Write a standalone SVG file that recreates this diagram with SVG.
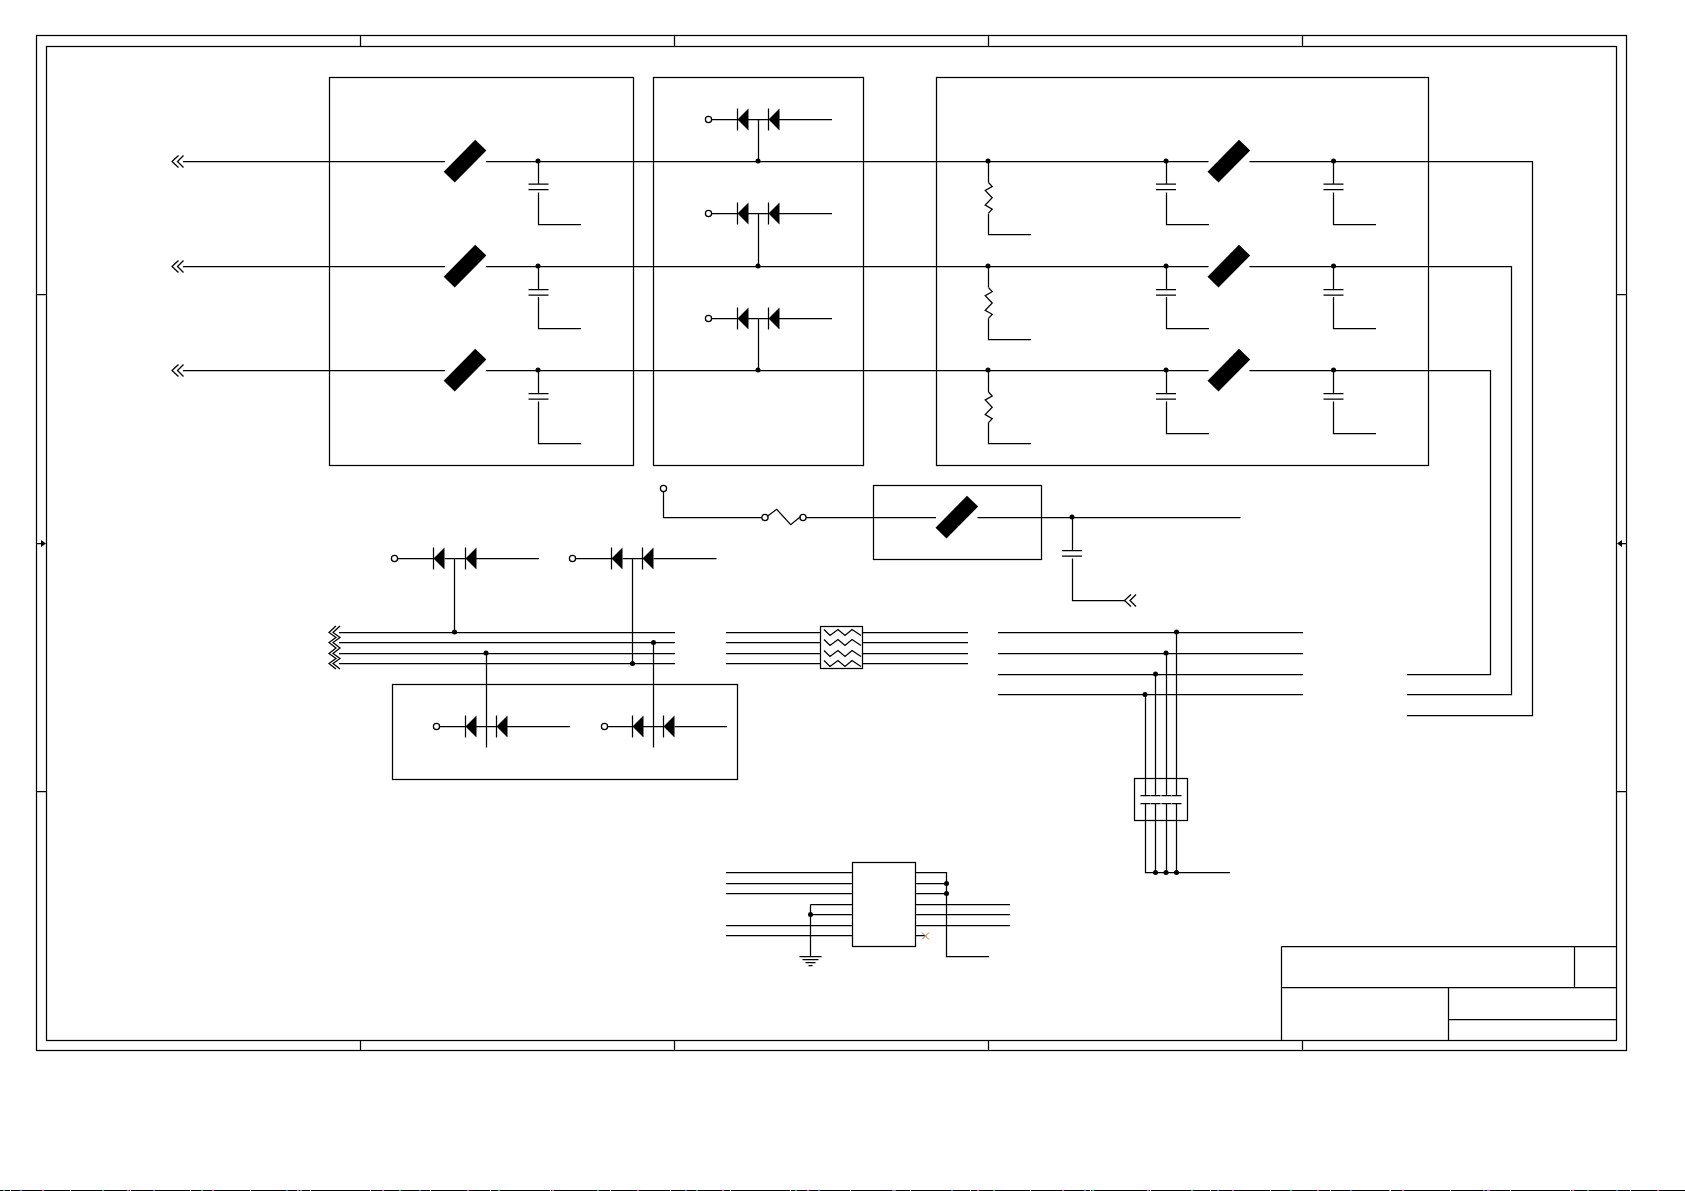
<svg xmlns="http://www.w3.org/2000/svg" xmlns:xlink="http://www.w3.org/1999/xlink" width="1685" height="1191" viewBox="0 0 1685 1191">
<style>
.w{fill:none;stroke:#000;stroke-width:1.25}
.f{fill:#000;stroke:none}
.t{fill:#fff;stroke:#000;stroke-width:1.25}
</style>
<defs>
<polygon id="bar" class="f" points="10,-21.6 21.2,-10.8 -10.5,21.3 -21.5,10.4"/>
<g id="diode"><path class="w" d="M0,-11V11"/><polygon class="f" points="0,0 11,-11 11,11"/></g>
<path id="chev" class="w" d="M6.5,-6L0,0L6.5,6M11.5,-6L5.5,0L11.5,6"/>
<circle id="term" class="t" r="3.1"/>
<circle id="dot" class="f" r="2.5"/>
<path id="plates" class="w" d="M-10,0H10M-10,5.5H10"/>
<path id="res" class="w" d="M0,0L3.7,4L-3.3,8L3.7,15.3L-3.3,22.6L3.7,26.6L0,30.6"/>
<path id="zig" class="w" d="M824,-3L830,3L838,-3L845,3L852,-3L861,3"/>
</defs>

<g id="frame">
<rect class="w" x="36.5" y="35.5" width="1590" height="1015"/>
<rect class="w" x="46.5" y="46.5" width="1570" height="994"/>
<path class="w" d="M360.5,35.5V46.5M674.5,35.5V46.5M988.5,35.5V46.5M1302.5,35.5V46.5M360.5,1040.5V1050.5M674.5,1040.5V1050.5M988.5,1040.5V1050.5M1302.5,1040.5V1050.5M36.5,294.5H46.5M36.5,791.5H46.5M1616.5,294.5H1626.5M1616.5,791.5H1626.5M36.5,543.5H41M1622,543.5H1626.5"/>
<polygon class="f" points="41,540 46,543.5 41,547"/>
<polygon class="f" points="1622,540 1617,543.5 1622,547"/>
</g>

<g id="title-block">
<path class="w" d="M1281.5,946.5H1616.5M1281.5,946.5V1040.5M1281.5,987.5H1616.5M1574.5,946.5V987.5M1448.5,987.5V1040.5M1448.5,1019.5H1616.5"/>
</g>

<g id="box-1"><rect class="w" x="329.5" y="77.5" width="304" height="388"/></g>
<g id="box-2"><rect class="w" x="653.5" y="77.5" width="210" height="388"/></g>
<g id="box-3"><rect class="w" x="936.5" y="77.5" width="492" height="388"/></g>
<g id="box-4"><rect class="w" x="873.5" y="485.5" width="168" height="74"/></g>
<g id="box-5"><rect class="w" x="392.5" y="684.5" width="345" height="95"/></g>

<g id="connectors">
<!-- main rails -->
<path class="w" d="M183,161.5H445M486,161.5H1208.5M1249.5,161.5H1532.5V715.5H1407"/>
<path class="w" d="M183,266.5H445M486,266.5H1208.5M1249.5,266.5H1511.5V694.5H1407"/>
<path class="w" d="M183,370.5H445M486,370.5H1208.5M1249.5,370.5H1490.5V674.5H1407"/>
<!-- caps in box 1 -->
<path class="w" d="M538.5,161.5V184M538.5,192.5V224.5H581M538.5,266.5V289M538.5,297V328.5H581M538.5,370.5V393M538.5,401.5V443.5H581"/>
<!-- resistor legs -->
<path class="w" d="M988.5,161.5V182.5M988.5,213.5V234.5H1031M988.5,266.5V287.5M988.5,318.5V339.5H1031M988.5,370.5V392M988.5,422.5V443.5H1031"/>
<!-- caps in box 3 -->
<path class="w" d="M1166.5,161.5V184M1166.5,192.5V224.5H1209M1166.5,266.5V289M1166.5,297V328.5H1209M1166.5,370.5V393M1166.5,401.5V433.5H1209"/>
<path class="w" d="M1333.5,161.5V184M1333.5,192.5V224.5H1376M1333.5,266.5V289M1333.5,297V328.5H1376M1333.5,370.5V393M1333.5,401.5V433.5H1376"/>
<!-- diode rows in box 2 -->
<path class="w" d="M711.5,119.5H737.5M748,119.5H768.5M779,119.5H832M758.5,119.5V161.5"/>
<path class="w" d="M711.5,213.5H737.5M748,213.5H768.5M779,213.5H832M758.5,213.5V266.5"/>
<path class="w" d="M711.5,318.5H737.5M748,318.5H768.5M779,318.5H832M758.5,318.5V370.5"/>
<!-- supply row -->
<path class="w" d="M663.5,491.5V517.5H762M806,517.5H936M977.5,517.5H1240.5"/>
<path class="w" d="M1072.5,517.5V550.5M1072.5,558.5V600.5H1125"/>
<!-- lower diodes -->
<path class="w" d="M397.5,558.5H433.5M444.5,558.5H465.5M476,558.5H539M454.5,558.5V632.5"/>
<path class="w" d="M575.5,558.5H611.5M622.5,558.5H642.5M653.5,558.5H716.5M632.5,558.5V663.5"/>
<path class="w" d="M439,726.5H465.5M476,726.5H496.5M507,726.5H570M486.5,653.5V747.5"/>
<path class="w" d="M607,726.5H632.5M643,726.5H663.5M674.5,726.5H727M653.5,642.5V747.5"/>
<!-- bus 1 -->
<path class="w" d="M339,632.5H675M339,642.5H675M339,653.5H675M339,663.5H675"/>
<!-- bus 2 -->
<path class="w" d="M726,632.5H820M726,642.5H820M726,653.5H820M726,663.5H820M863,632.5H968M863,642.5H968M863,653.5H968M863,663.5H968"/>
<!-- bus 3 -->
<path class="w" d="M998,632.5H1303M998,653.5H1303M998,674.5H1303M998,694.5H1303"/>
<path class="w" d="M1145.5,694.5V795.5M1155.5,674.5V795.5M1166.5,653.5V795.5M1176.5,632.5V795.5M1145.5,803.5V872.5H1230M1155.5,803.5V872.5M1166.5,803.5V872.5M1176.5,803.5V872.5"/>
<!-- IC wires -->
<path class="w" d="M726,872.5H852M726,883.5H852M726,893.5H852M726,925.5H852M726,935.5H852M810.5,904.5H852M810.5,914.5H852M810.5,904.5V956.5"/>
<path class="w" d="M915,872.5H946.5V956.5H989M915,883.5H946.5M915,893.5H946.5M915,904.5H1010M915,914.5H1010M915,925.5H1010M915,935.5H925"/>
</g>

<g id="junctions">
<use href="#dot" x="538" y="161"/><use href="#dot" x="538" y="266"/><use href="#dot" x="538" y="370"/>
<use href="#dot" x="758" y="161"/><use href="#dot" x="758" y="266"/><use href="#dot" x="758" y="370"/>
<use href="#dot" x="988" y="161"/><use href="#dot" x="988" y="266"/><use href="#dot" x="988" y="370"/>
<use href="#dot" x="1166" y="161"/><use href="#dot" x="1166" y="266"/><use href="#dot" x="1166" y="370"/>
<use href="#dot" x="1333.5" y="161"/><use href="#dot" x="1333.5" y="266"/><use href="#dot" x="1333.5" y="370"/>
<use href="#dot" x="1072" y="517"/>
<use href="#dot" x="454.5" y="632"/><use href="#dot" x="632.5" y="663.5"/><use href="#dot" x="486" y="653"/><use href="#dot" x="653.5" y="642.5"/>
<use href="#dot" x="1176.5" y="632"/><use href="#dot" x="1166" y="653"/><use href="#dot" x="1155.5" y="674"/><use href="#dot" x="1145" y="694.5"/>
<use href="#dot" x="1155.5" y="872.5"/><use href="#dot" x="1166" y="872.5"/><use href="#dot" x="1176.5" y="872.5"/>
<use href="#dot" x="810.5" y="914.5"/><use href="#dot" x="946.5" y="883.5"/><use href="#dot" x="946.5" y="893.5"/>
</g>

<g id="port-1"><use href="#chev" x="172" y="161.5"/></g>
<g id="port-2"><use href="#chev" x="172" y="266.5"/></g>
<g id="port-3"><use href="#chev" x="172" y="370.5"/></g>
<g id="port-4"><use href="#chev" x="1124.5" y="600.5"/></g>

<g id="bead-1"><use href="#bar" x="465.2" y="161.3"/></g>
<g id="bead-2"><use href="#bar" x="465.2" y="266.3"/></g>
<g id="bead-3"><use href="#bar" x="465.2" y="370.3"/></g>
<g id="bead-4"><use href="#bar" x="1229" y="161.3"/></g>
<g id="bead-5"><use href="#bar" x="1229" y="266.3"/></g>
<g id="bead-6"><use href="#bar" x="1229" y="370.3"/></g>
<g id="bead-7"><use href="#bar" x="957" y="517.3"/></g>

<g id="cap-1"><use href="#plates" x="538.5" y="184"/></g>
<g id="cap-2"><use href="#plates" x="538.5" y="289.5"/></g>
<g id="cap-3"><use href="#plates" x="538.5" y="393.5"/></g>
<g id="cap-4"><use href="#plates" x="1166" y="184"/></g>
<g id="cap-5"><use href="#plates" x="1166" y="289.5"/></g>
<g id="cap-6"><use href="#plates" x="1166" y="393.5"/></g>
<g id="cap-7"><use href="#plates" x="1333.5" y="184"/></g>
<g id="cap-8"><use href="#plates" x="1333.5" y="289.5"/></g>
<g id="cap-9"><use href="#plates" x="1333.5" y="393.5"/></g>
<g id="cap-10"><use href="#plates" x="1072" y="550.5"/></g>

<g id="res-1"><use href="#res" x="988.5" y="182.5"/></g>
<g id="res-2"><use href="#res" x="988.5" y="287.7"/></g>
<g id="res-3"><use href="#res" x="988.5" y="392"/></g>

<g id="tvs-1"><use href="#term" x="708.5" y="119.5"/><use href="#diode" x="737.5" y="119.5"/><use href="#diode" x="768.5" y="119.5"/></g>
<g id="tvs-2"><use href="#term" x="708.5" y="213.5"/><use href="#diode" x="737.5" y="213.5"/><use href="#diode" x="768.5" y="213.5"/></g>
<g id="tvs-3"><use href="#term" x="708.5" y="318.5"/><use href="#diode" x="737.5" y="318.5"/><use href="#diode" x="768.5" y="318.5"/></g>
<g id="tvs-4"><use href="#term" x="394.5" y="558.5"/><use href="#diode" x="433.5" y="558.5"/><use href="#diode" x="465.5" y="558.5"/></g>
<g id="tvs-5"><use href="#term" x="572.5" y="558.5"/><use href="#diode" x="611.5" y="558.5"/><use href="#diode" x="642.5" y="558.5"/></g>
<g id="tvs-6"><use href="#term" x="436.5" y="726.5"/><use href="#diode" x="465.5" y="726.5"/><use href="#diode" x="496.5" y="726.5"/></g>
<g id="tvs-7"><use href="#term" x="604.5" y="726.5"/><use href="#diode" x="632.5" y="726.5"/><use href="#diode" x="663.5" y="726.5"/></g>

<g id="supply-terminal"><use href="#term" x="663.5" y="488.5"/></g>
<g id="fuse">
<use href="#term" x="765" y="517.5"/><use href="#term" x="803" y="517.5"/>
<path class="w" d="M767,516.5L776.7,509.3L790.7,524.7L800.7,516.5"/>
</g>

<g id="bus-break">
<path class="w" d="M336,626L329,632.5L336,637.5L329,642.5L336,648L329,653.5L336,658.5L329,663.5L336,669"/>
<path class="w" d="M340,626L333,632.5L340,637.5L333,642.5L340,648L333,653.5L340,658.5L333,663.5L340,669"/>
</g>

<g id="filter">
<rect class="w" x="820.5" y="626.5" width="42" height="42"/>
<use href="#zig" y="632.5"/><use href="#zig" y="642.5"/><use href="#zig" y="653.5"/><use href="#zig" y="663.5"/>
</g>

<g id="cap-array">
<rect class="w" x="1134.5" y="778.5" width="53" height="42"/>
<path class="w" d="M1140.5,795.5H1150.5M1151,795.5H1160.5M1161.5,795.5H1171M1171.5,795.5H1181.5M1140.5,803.5H1150.5M1151,803.5H1160.5M1161.5,803.5H1171M1171.5,803.5H1181.5"/>
</g>

<g id="ic"><rect class="w" x="852.5" y="862.5" width="63" height="84"/></g>
<g id="ground"><path class="w" d="M799.5,956.5H821.5M802.5,959.5H818.5M805.5,962.5H815.5M808.5,965.5H812.5"/></g>
<g id="no-connect"><path fill="none" stroke="#b5703a" stroke-width="1" d="M922,932.5L929,939.5M929,932.5L922,939.5"/></g>

<g id="edge-line">
<path fill="none" stroke="#000" stroke-width="1" d="M0,1190.5H1685"/>
<path fill="none" stroke="#2a6" stroke-width="1" stroke-dasharray="2 97" d="M3,1190.5H1685"/>
<path fill="none" stroke="#36c" stroke-width="1" stroke-dasharray="2 131" d="M20,1190.5H1685"/>
<path fill="none" stroke="#d4a" stroke-width="1" stroke-dasharray="2 83" d="M42,1190.5H1685"/>
<path fill="none" stroke="#fff" stroke-width="1" stroke-dasharray="1 59" d="M10,1190.5H1685"/>
</g>
</svg>
